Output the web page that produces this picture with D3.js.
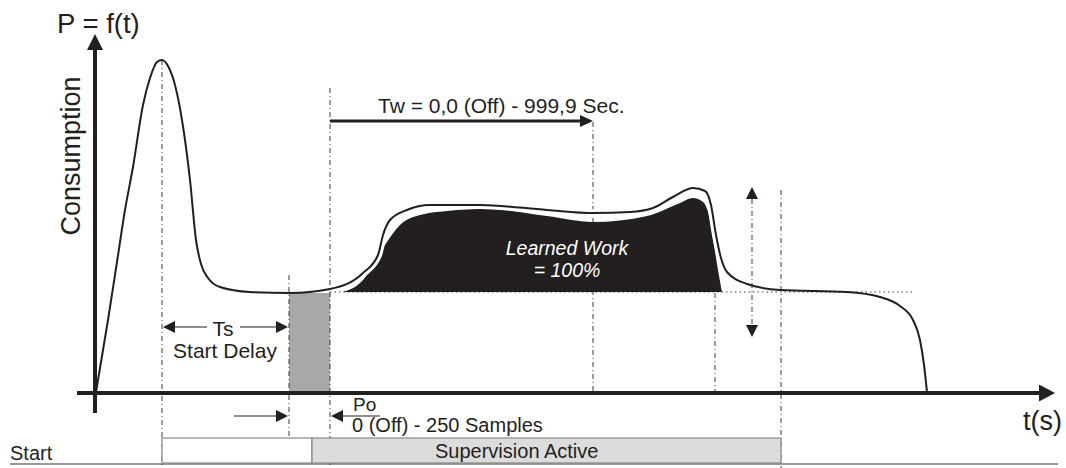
<!DOCTYPE html>
<html><head><meta charset="utf-8">
<script src="https://cdn.jsdelivr.net/npm/d3@7"></script>
<style>
body{margin:0;background:#fff}
svg{display:block}
text{font-family:Arial,"Liberation Sans",Helvetica,sans-serif;fill:#231f20}
</style>
</head><body>
<svg id="c" width="1066" height="468"></svg>
<script>
// ---- data (time units, power units) ----
const consumption = [[1,1],[13,73],[22,131],[30,183],[38,226],[48,288],[55,315],[62,331],[67,333],[73,327],[80,308],[87,273],[95,213],[101,153],[106,129],[113,115],[125,106],[155,101],[195,100],[235,104],[268,120],[283,138],[288,158],[295,173],[312,183],[335,188],[385,188],[452,183],[498,180],[535,181],[558,185],[578,196],[598,205],[610,202],[616,188],[621,158],[626,135],[632,121],[652,109],[685,103],[752,101],[785,96],[805,87],[818,73],[825,53],[829,28],[832,1]];
const learnedWork = [[248,101],[265,110],[277,125],[290,148],[305,168],[325,178],[352,182],[392,184],[452,177],[498,171],[552,177],[585,190],[598,195],[608,191],[615,173],[619,148],[623,123],[627,101]];
const learnedLevel = 101;
// key times
const tPeak = 67, tTsEnd = 194, tPoEnd = 235, tActive = 217, tTwEnd = 498, tLearnEnd = 620, tMonEnd = 686, tBand = 657, tLevelEnd = 820;
// guide lines: [time, top, bottom]
const guides = [[tPeak,333,-72],[tTsEnd,118,-70],[tPoEnd,305,-75],[tTwEnd,271,0],[tLearnEnd,100,0],[tMonEnd,203,-75]];
const labels = {
  yTitle:"P = f(t)", yAxis:"Consumption", xAxis:"t(s)",
  tw:"Tw = 0,0 (Off) - 999,9 Sec.", ts:"Ts", tsName:"Start Delay",
  po:"Po", poRange:"0 (Off) - 250 Samples", learned1:"Learned Work", learned2:"= 100%",
  start:"Start", active:"Supervision Active"
};

const svg = d3.select("#c");
const x = d3.scaleLinear().domain([0,960]).range([95,1055]);
const y = d3.scaleLinear().domain([0,360]).range([393,33]);
const ink = "#231f20";

function arrowHead(tipX, tipY, dir, len, half){ // dir: 'r','l','u','d'
  let pts;
  if(dir==='r') pts=[[tipX,tipY],[tipX-len,tipY-half],[tipX-len,tipY+half]];
  if(dir==='l') pts=[[tipX,tipY],[tipX+len,tipY-half],[tipX+len,tipY+half]];
  if(dir==='u') pts=[[tipX,tipY],[tipX-half,tipY+len],[tipX+half,tipY+len]];
  if(dir==='d') pts=[[tipX,tipY],[tipX-half,tipY-len],[tipX+half,tipY-len]];
  svg.append("path").attr("d","M"+pts.map(p=>p.join(",")).join("L")+"Z").attr("fill",ink);
}

// gray offset band
svg.append("rect").attr("x",x(tTsEnd)).attr("y",y(learnedLevel-1)).attr("width",x(tPoEnd)-x(tTsEnd)).attr("height",y(0)-y(learnedLevel-1)).attr("fill","#a8a8a8");

// guide lines
svg.selectAll(".g").data(guides).join("line")
  .attr("x1",d=>x(d[0])).attr("x2",d=>x(d[0])).attr("y1",d=>y(d[1])).attr("y2",d=>y(d[2]))
  .attr("stroke","#3a3a3a").attr("stroke-width",1).attr("stroke-dasharray","5,3,1,3");

// dotted learned level
svg.append("line").attr("x1",x(tPoEnd)).attr("x2",x(tLevelEnd)).attr("y1",y(learnedLevel)).attr("y2",y(learnedLevel))
  .attr("stroke","#3a3a3a").attr("stroke-width",1).attr("stroke-dasharray","1.5,3");

// learned work fill
const area = d3.area().x(d=>x(d[0])).y0(y(learnedLevel)).y1(d=>y(d[1])).curve(d3.curveMonotoneX);
svg.append("path").attr("d",area(learnedWork)).attr("fill",ink);

// consumption curve with white halo over the fill
const line = d3.line().x(d=>x(d[0])).y(d=>y(d[1])).curve(d3.curveMonotoneX);
svg.append("clipPath").attr("id","hc").append("rect").attr("x",x(240)).attr("y",0).attr("width",x(640)-x(240)).attr("height",y(learnedLevel)-2);
svg.append("path").attr("d",line(consumption)).attr("fill","none").attr("stroke","#fff").attr("stroke-width",8).attr("clip-path","url(#hc)");
svg.append("path").attr("d",line(consumption)).attr("fill","none").attr("stroke",ink).attr("stroke-width",2);

// axes
svg.append("line").attr("x1",x(0)).attr("x2",x(0)).attr("y1",y(-20)).attr("y2",y(345)).attr("stroke",ink).attr("stroke-width",4);
arrowHead(x(0),y(359),'u',16,8);
svg.append("line").attr("x1",x(-18)).attr("x2",x(945)).attr("y1",y(0)).attr("y2",y(0)).attr("stroke",ink).attr("stroke-width",4);
arrowHead(x(960),y(0),'r',16,8.5);

// axis labels
svg.append("text").attr("x",x(-38)).attr("y",y(360)).attr("font-size",27.5).text(labels.yTitle);
svg.append("text").attr("transform",`translate(${x(-15)},${y(237)}) rotate(-90)`).attr("text-anchor","middle").attr("font-size",27).text(labels.yAxis);
svg.append("text").attr("x",x(928)).attr("y",y(-37)).attr("font-size",27).text(labels.xAxis);

// Tw arrow
svg.append("line").attr("x1",x(tPoEnd)).attr("x2",x(tTwEnd-12)).attr("y1",y(272)).attr("y2",y(272)).attr("stroke",ink).attr("stroke-width",3);
arrowHead(x(tTwEnd),y(272),'r',13,6);
svg.append("text").attr("x",x(283)).attr("y",y(280)).attr("font-size",21).text(labels.tw);

// Ts arrows
const pTs = 66;
svg.append("line").attr("x1",x(tPeak+10)).attr("x2",x(112)).attr("y1",y(pTs)).attr("y2",y(pTs)).attr("stroke",ink).attr("stroke-width",1.2);
arrowHead(x(tPeak)+1,y(pTs),'l',12,6);
svg.append("line").attr("x1",x(145)).attr("x2",x(tTsEnd-10)).attr("y1",y(pTs)).attr("y2",y(pTs)).attr("stroke",ink).attr("stroke-width",1.2);
arrowHead(x(tTsEnd)-1,y(pTs),'r',12,6);
svg.append("text").attr("x",x(128)).attr("y",y(57)).attr("text-anchor","middle").attr("font-size",21).text(labels.ts);
svg.append("text").attr("x",x(130)).attr("y",y(35)).attr("text-anchor","middle").attr("font-size",21).text(labels.tsName);

// Po arrows
const pPo = -23;
svg.append("line").attr("x1",x(139)).attr("x2",x(tTsEnd-10)).attr("y1",y(pPo)).attr("y2",y(pPo)).attr("stroke",ink).attr("stroke-width",1.2);
arrowHead(x(tTsEnd)-1,y(pPo),'r',12,6);
svg.append("line").attr("x1",x(tPoEnd+10)).attr("x2",x(285)).attr("y1",y(pPo)).attr("y2",y(pPo)).attr("stroke",ink).attr("stroke-width",1.2);
arrowHead(x(tPoEnd)+1,y(pPo),'l',12,6);
svg.append("text").attr("x",x(258)).attr("y",y(-17.5)).attr("font-size",19).text(labels.po);
svg.append("text").attr("x",x(257)).attr("y",y(-39)).attr("font-size",20).text(labels.poRange);

// variance band arrows
svg.append("line").attr("x1",x(tBand)).attr("x2",x(tBand)).attr("y1",y(194)).attr("y2",y(68)).attr("stroke","#3a3a3a").attr("stroke-width",1).attr("stroke-dasharray","5,3,1,3");
arrowHead(x(tBand),y(206),'u',12,6);
arrowHead(x(tBand),y(56),'d',12,6);

// learned work text
svg.append("text").attr("x",x(472)).attr("y",y(138)).attr("text-anchor","middle").attr("font-size",19.5).attr("font-style","italic").style("fill","#fff").text(labels.learned1);
svg.append("text").attr("x",x(472)).attr("y",y(116)).attr("text-anchor","middle").attr("font-size",19.5).attr("font-style","italic").style("fill","#fff").text(labels.learned2);

// start / supervision timeline
svg.append("line").attr("x1",x(-85)).attr("x2",x(963)).attr("y1",y(-71)).attr("y2",y(-71)).attr("stroke","#333").attr("stroke-width",1.2);
svg.append("rect").attr("x",x(tPeak)).attr("y",y(-45)).attr("width",x(tActive)-x(tPeak)).attr("height",y(-70)-y(-45)).attr("fill","#fff").attr("stroke","#888").attr("stroke-width",1.2);
svg.append("rect").attr("x",x(tActive)).attr("y",y(-45)).attr("width",x(tMonEnd)-x(tActive)).attr("height",y(-70)-y(-45)).attr("fill","#dcdcdc").attr("stroke","#888").attr("stroke-width",1.2);
svg.append("text").attr("x",x(-85)).attr("y",y(-67)).attr("font-size",20).text(labels.start);
svg.append("text").attr("x",x(340)).attr("y",y(-65)).attr("font-size",20).text(labels.active);
</script>
</body></html>
